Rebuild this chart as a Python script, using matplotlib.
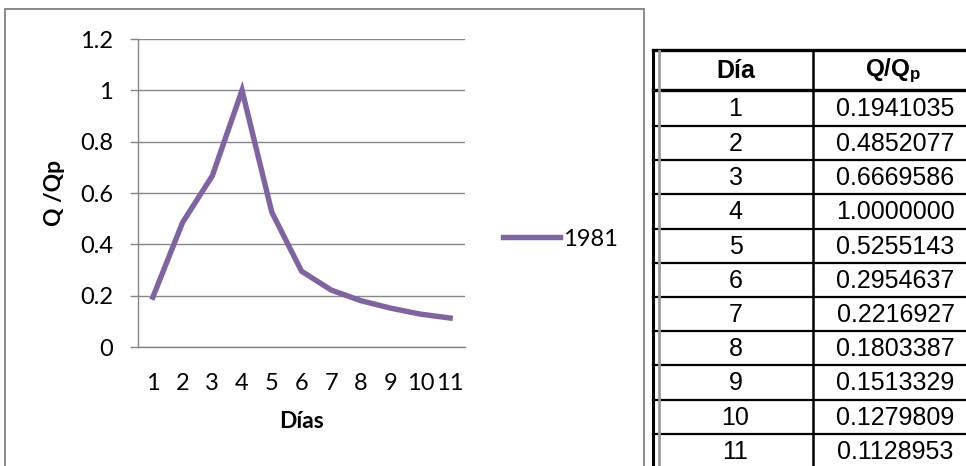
import matplotlib
matplotlib.use("Agg")
import matplotlib.pyplot as plt
from matplotlib.lines import Line2D
from matplotlib.patches import Rectangle

plt.rcParams["font.family"] = ["Lato", "DejaVu Sans"]
plt.rcParams["mathtext.fontset"] = "custom"
plt.rcParams["mathtext.rm"] = "Liberation Sans"
plt.rcParams["mathtext.bf"] = "Liberation Sans:bold"
plt.rcParams["mathtext.it"] = "Liberation Sans:italic"

# data
dias = [1, 2, 3, 4, 5, 6, 7, 8, 9, 10, 11]
q_qp = [0.1941035, 0.4852077, 0.6669586, 1.0000000, 0.5255143, 0.2954637,
        0.2216927, 0.1803387, 0.1513329, 0.1279809, 0.1128953]
serie = "1981"
y_ticks = [0, 0.2, 0.4, 0.6, 0.8, 1.0, 1.2]
y_tick_labels = ["0", "0.2", "0.4", "0.6", "0.8", "1", "1.2"]

W, H = 966, 466
PURPLE = "#8064A2"
GRID = "#868686"

fig = plt.figure(figsize=(W / 100, H / 100), dpi=100)


def fx(x):
    return x / W


def fy(y):
    return 1 - y / H


# ============================================================
# chart (left)
# ============================================================
fig.add_artist(Rectangle((fx(5), fy(520)), fx(644) - fx(5), fy(9) - fy(520),
                         transform=fig.transFigure, fill=False,
                         edgecolor="#8a8a8a", lw=1.4, clip_on=False))

ax = fig.add_axes([fx(138), fy(347), fx(465) - fx(138), fy(39) - fy(347)])
ax.plot(dias, q_qp, color=PURPLE, lw=3.9, solid_joinstyle="miter", label=serie)
ax.set_xlim(0.5, 11.5)
ax.set_ylim(0, 1.2)
ax.set_yticks(y_ticks)
ax.set_yticklabels(y_tick_labels)
ax.set_xticks(dias)
ax.set_xticklabels([str(d) for d in dias])
ax.grid(axis="y", color=GRID, lw=1.0)
ax.set_axisbelow(True)
for s in ["top", "right"]:
    ax.spines[s].set_visible(False)
for s in ["left", "bottom"]:
    ax.spines[s].set_color(GRID)
    ax.spines[s].set_linewidth(1.0)
ax.tick_params(axis="y", length=6, width=1.0, color=GRID, pad=12,
               labelsize=17, labelcolor="black")
ax.tick_params(axis="x", length=0, pad=19, labelsize=17, labelcolor="black")
ax.set_xlabel("Días", fontsize=16.5, fontweight="bold", labelpad=12)
ax.set_ylabel("Q /Qp", fontsize=16.5, fontweight="bold", labelpad=11)

fig.legend(loc="center left", bbox_to_anchor=(fx(503), fy(239)),
           frameon=False, fontsize=17, handlelength=2.4,
           handletextpad=0.15, borderpad=0, borderaxespad=0)

# ============================================================
# table (right)
# ============================================================
T_LEFT, T_RIGHT, COL_SEP = 653, 970, 813
rows_y = [50, 90] + [126 + 34.2 * k for k in range(len(dias))]


def hline(y, lw):
    fig.add_artist(Line2D([fx(T_LEFT), fx(T_RIGHT)], [fy(y), fy(y)],
                          transform=fig.transFigure, color="black", lw=lw))


def vline(x, y0, y1, color, lw):
    fig.add_artist(Line2D([fx(x), fx(x)], [fy(y0), fy(y1)],
                          transform=fig.transFigure, color=color, lw=lw))


hline(rows_y[0], 2.4)
hline(rows_y[1], 2.4)
for y in rows_y[2:]:
    hline(y, 1.6)
vline(T_LEFT, rows_y[0], 480, "black", 2.2)
vline(659, rows_y[0] + 1, 480, "#9a9a9a", 2.0)
vline(COL_SEP, rows_y[0], 480, "black", 1.8)

c1 = (660 + COL_SEP) / 2 - 1
c2 = (COL_SEP + 966) / 2 + 6
fig.text(fx(c1), fy(71), "Día", ha="center", va="center",
         family="Liberation Sans", fontweight="bold", fontsize=18)
fig.text(fx(c2 - 2), fy(71), r"$\mathbf{Q/Q_p}$", ha="center", va="center",
         fontsize=17.5)

for i, (d, v) in enumerate(zip(dias, q_qp)):
    top = rows_y[i + 1]
    bot = rows_y[i + 2] if i + 2 < len(rows_y) else top + 34.2
    yc = (top + bot) / 2 + 1
    fig.text(fx(c1), fy(yc), str(d), ha="center", va="center",
             family="Liberation Sans", fontsize=18)
    fig.text(fx(c2), fy(yc), f"{v:.7f}", ha="center", va="center",
             family="Liberation Sans", fontsize=18)

fig.savefig("out.png", dpi=100)
